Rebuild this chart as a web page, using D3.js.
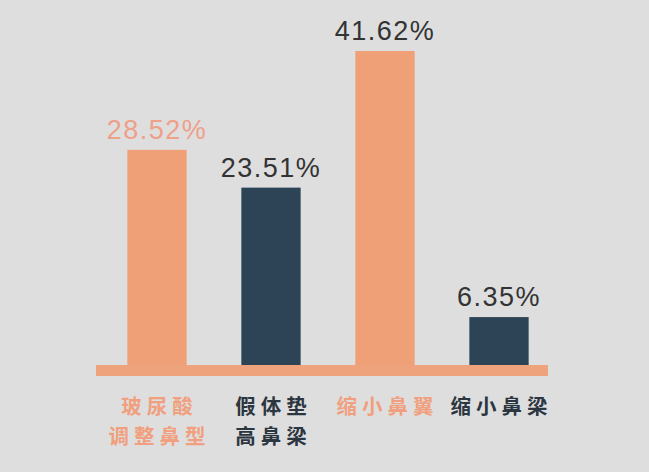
<!DOCTYPE html>
<html><head><meta charset="utf-8">
<script src="https://cdn.jsdelivr.net/npm/d3@7"></script>
<style>
html,body{margin:0;padding:0;background:#dededf;}
svg{display:block;}
</style></head>
<body>
<svg id="chart" width="649" height="472"></svg>
<script>
const categories = ["玻尿酸\n调整鼻型", "假体垫\n高鼻梁", "缩小鼻翼", "缩小鼻梁"];
const values = [28.52, 23.51, 41.62, 6.35];
const valueLabels = ["28.52%", "23.51%", "41.62%", "6.35%"];
const barColors = ["#f0a076", "#2c4456", "#f0a076", "#2c4456"];
const valueColors = ["#eea089", "#333333", "#333333", "#333333"];
const catColors = ["#f0a07e", "#2c3640", "#f0a07e", "#2c3640"];

const svg = d3.select("#chart");
const W = 649, H = 472;
svg.append("rect").attr("width", W).attr("height", H).attr("fill", "#dededf");

const x = d3.scaleBand().domain(categories).range([100, 556]).paddingInner(0.48).paddingOuter(0.24);
const y = d3.scaleLinear().domain([0, 41.62]).range([365, 51]);

// baseline
svg.append("rect").attr("x", 96).attr("y", 365).attr("width", 452).attr("height", 11).attr("fill", "#efa37c");

svg.selectAll("rect.bar").data(values).join("rect").attr("class", "bar")
  .attr("x", (d, i) => x(categories[i]))
  .attr("width", x.bandwidth())
  .attr("y", d => y(d))
  .attr("height", d => y(0) - y(d))
  .attr("fill", (d, i) => barColors[i]);

svg.selectAll("text.val").data(values).join("text").attr("class", "val")
  .attr("x", (d, i) => x(categories[i]) + x.bandwidth() / 2)
  .attr("y", d => y(d) - 11)
  .attr("text-anchor", "middle")
  .attr("font-family", "Liberation Sans, Arial, sans-serif")
  .attr("font-size", 27)
  .attr("letter-spacing", 1.5)
  .attr("fill", (d, i) => valueColors[i])
  .text((d, i) => valueLabels[i]);

categories.forEach((c, i) => {
  const lines = c.split("\n");
  lines.forEach((l, j) => {
    svg.append("text")
      .attr("text-anchor", "middle")
      .attr("font-family", "Noto Sans CJK SC, sans-serif")
      .attr("font-weight", "bold")
      .attr("font-size", 20.5)
      .attr("letter-spacing", 5)
      .attr("fill", catColors[i])
      .attr("x", x(c) + x.bandwidth() / 2 + 2.5)
      .attr("y", 414 + j * 30)
      .text(l);
  });
});
</script>
</body></html>
